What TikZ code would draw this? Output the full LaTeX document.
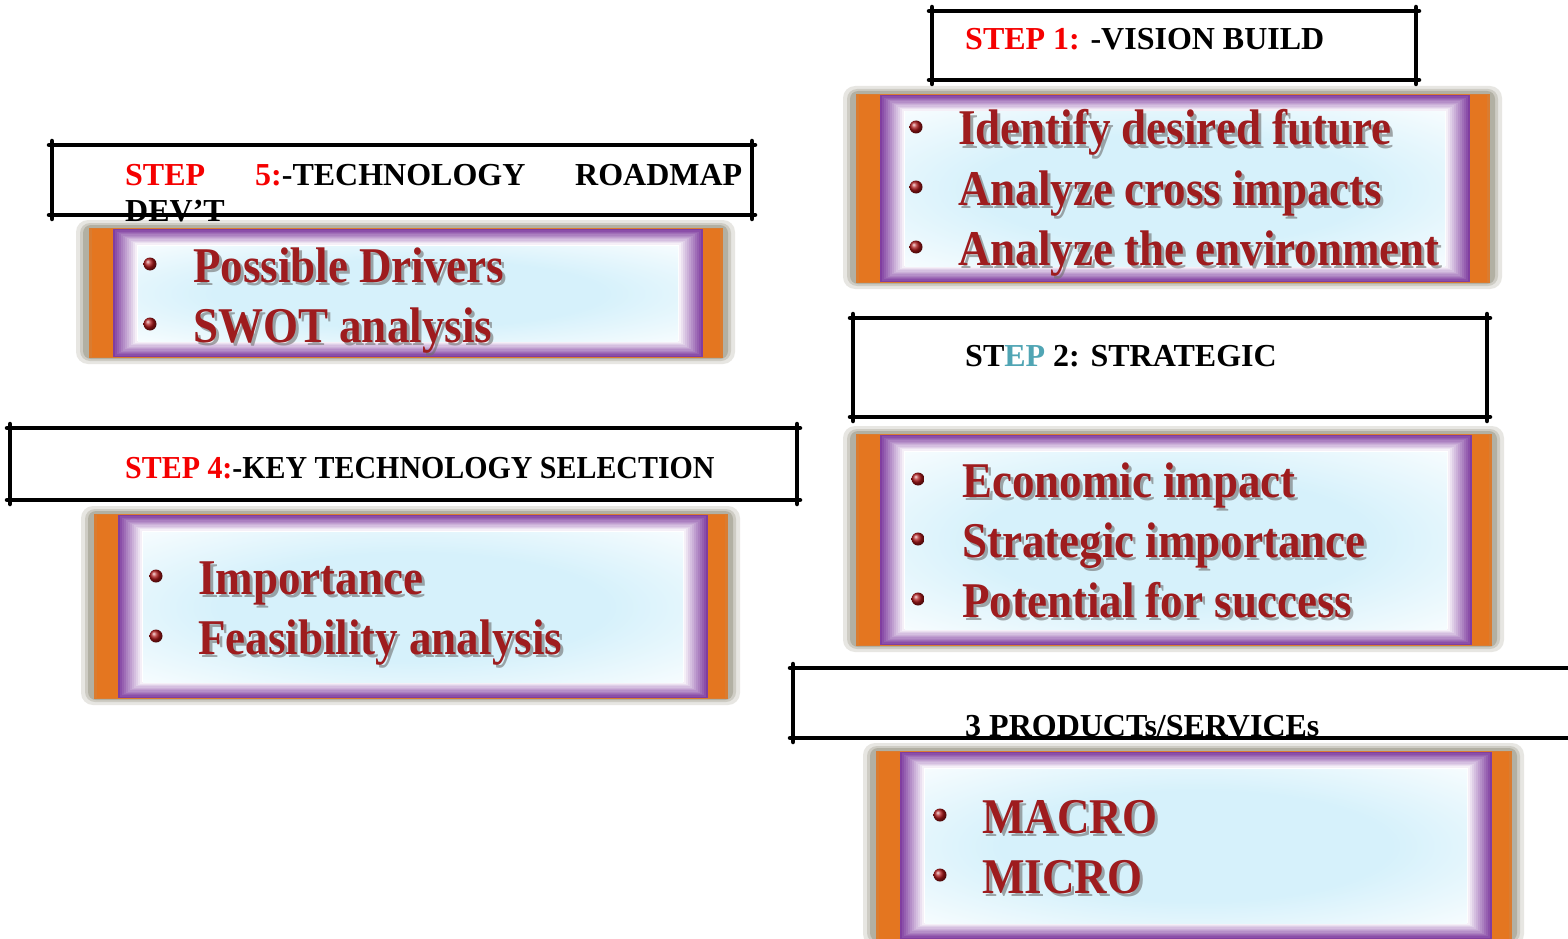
\documentclass[tikz,border=0pt]{standalone}
\usepackage{fontspec}
\setmainfont{Liberation Serif}
\usepackage{graphicx}
\definecolor{gorange}{RGB}{228,118,32}
\definecolor{gpurple}{RGB}{128,62,160}
\definecolor{gframe}{RGB}{160,158,142}
\definecolor{lblue}{RGB}{214,241,251}
\definecolor{bred}{RGB}{158,28,30}
\definecolor{sgray}{RGB}{110,110,110}
\definecolor{tred}{RGB}{245,0,0}
\definecolor{tealx}{RGB}{80,165,180}
\pgfdeclareradialshading{lbshade}{\pgfpoint{0bp}{0bp}}{color(0bp)=(lblue); color(18bp)=(lblue); color(40bp)=(white); color(50bp)=(white)}
\tikzset{
  titleline/.style={line width=4.5pt, line cap=round, draw=black},
  ttxt/.style={anchor=base west, inner sep=0pt, font=\bfseries\fontsize{32}{38}\selectfont},
  btxt/.style={anchor=base west, inner sep=0pt, text=bred, font=\bfseries\fontsize{50}{60}\selectfont},
  bshadow/.style={btxt, text=sgray, opacity=0.6},
  bdot/.style={ball color=bred!85!red},
}
% gradient framed box: x0 y0 x1 y1
\newcommand\gbx[4]{%
  \fill[gframe, opacity=0.25, rounded corners=12] (#1-2,#2-2) rectangle (#3+2,#4+2);
  \fill[gframe, opacity=0.35, rounded corners=10] (#1+2,#2+1) rectangle (#3-2,#4-1);
  \fill[gframe, opacity=0.6, rounded corners=8] (#1+5,#2+3) rectangle (#3-5,#4-3);
  \fill[gorange!85!gframe] (#1+11,#2+6) rectangle (#3-10,#4-4);
  \fill[gorange] (#1+14,#2+7) rectangle (#3-13,#4-5);
  \fill[gpurple] (#1+35,#2+7) rectangle (#3-30,#4-5);
  \foreach \k in {1,...,12}{%
    \pgfmathtruncatemacro\pc{100-100*\k/12}%
    \fill[gpurple!\pc!white] (#1+35+2*\k,#2+7+1.3*\k) rectangle (#3-30-2*\k,#4-5-1.3*\k);
  }
  \shade[shading=lbshade] (#1+60,#2+24) rectangle (#3-55,#4-21);
}
% title box: x0 y0 x1 y1
\newcommand\tbx[4]{%
  \draw[titleline] (#1-3,#2) -- (#3+3,#2);
  \draw[titleline] (#1-3,#4) -- (#3+3,#4);
  \draw[titleline] (#1,#2-4) -- (#1,#4+4);
  \draw[titleline] (#3,#2-4) -- (#3,#4+4);
}
% bullet item: name textx basey dotx text
\newcommand\bitem[5]{%
  \node[bshadow] at (#2+3,#3+3) {\scalebox{0.9}[1]{#5}};
  \node[btxt] (#1) at (#2,#3) {\scalebox{0.9}[1]{#5}};
  \shade[bdot] (#4,#3-18) circle (6.5);
}
\begin{document}
\begin{tikzpicture}[x=1pt,y=-1pt]
\useasboundingbox (0,0) rectangle (1568,939);
\clip (0,0) rectangle (1568,939);
\fill[white] (0,0) rectangle (1568,939);

% gradient boxes
\gbx{845}{88}{1500}{287}
\gbx{78}{222}{733}{362}
\gbx{83}{508}{738}{703}
\gbx{845}{428}{1502}{650}
\gbx{865}{745}{1522}{944}

% bullets
\bitem{b11}{958}{145}{916}{Identify desired future}
\bitem{b12}{958}{205}{916}{Analyze cross impacts}
\bitem{b13}{958}{265}{916}{Analyze the environment}

\bitem{b51}{193}{282}{150}{Possible Drivers}
\bitem{b52}{193}{342}{150}{SWOT analysis}

\bitem{b41}{198}{594}{156}{Importance}
\bitem{b42}{198}{654}{156}{Feasibility analysis}

\bitem{b21}{962}{497}{918}{Economic impact}
\bitem{b22}{962}{557}{918}{Strategic importance}
\bitem{b23}{962}{617}{918}{Potential for success}

\bitem{b31}{982}{833}{940}{MACRO}
\bitem{b32}{982}{893}{940}{MICRO}

% title boxes
\tbx{932}{11}{1416}{80}
\node[ttxt] (t1) at (965,50) {\textcolor{tred}{STEP 1:} -VISION BUILD};

\tbx{52}{145}{752}{215}
\node[ttxt, text=tred] (t5a) at (125,185) {STEP};
\node[ttxt] (t5b) at (255,185) {\textcolor{tred}{5:}-TECHNOLOGY};
\node[ttxt] (t5c) at (575,185) {ROADMAP};
\node[ttxt] (t5d) at (125,221) {DEV’T};

\tbx{10}{428}{797}{500}
\node[ttxt] (t4) at (125,478) {\scalebox{0.935}[1]{\textcolor{tred}{STEP 4:}-KEY TECHNOLOGY SELECTION}};

\tbx{853}{318}{1487}{417}
\node[ttxt] (t2) at (965,366) {ST\textcolor{tealx}{EP} 2: STRATEGIC};

\draw[titleline] (790,668) -- (1580,668);
\draw[titleline] (790,738) -- (1580,738);
\draw[titleline] (793,664) -- (793,742);
\node[ttxt] (t3) at (965,736) {3 PRODUCTs/SERVICEs};
\end{tikzpicture}
\end{document}
